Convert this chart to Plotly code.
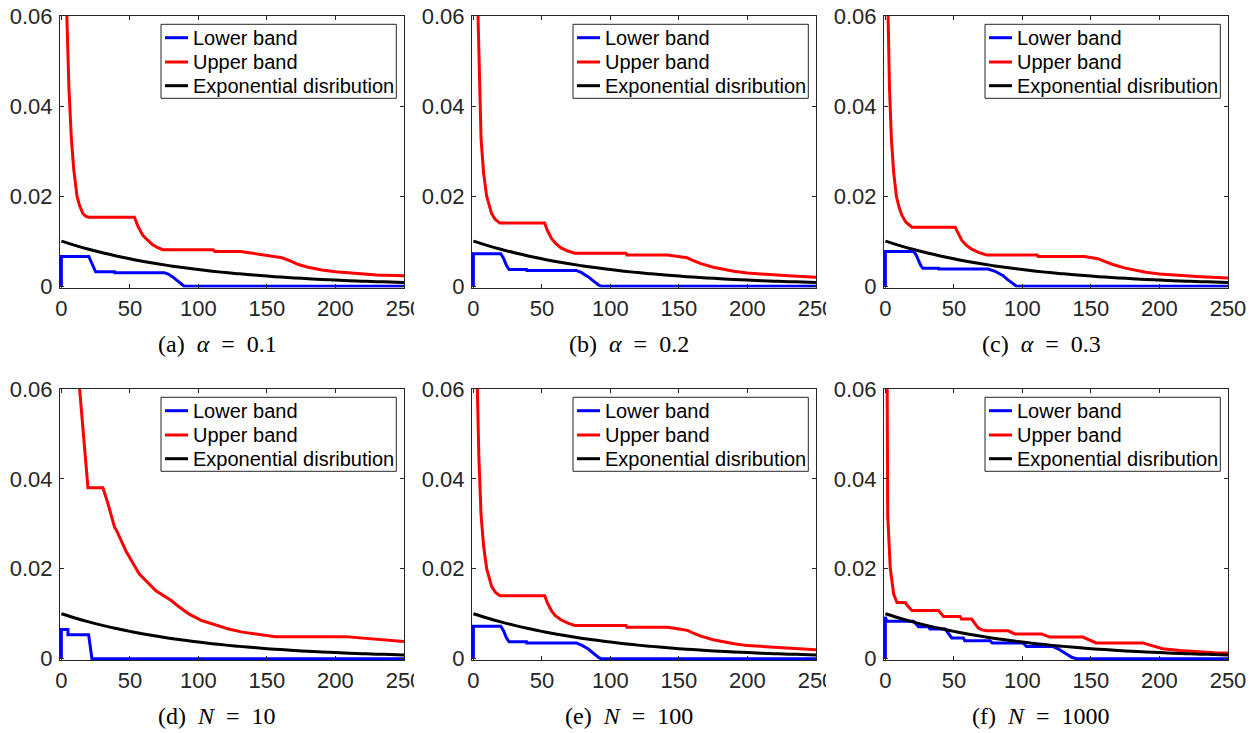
import plotly.graph_objects as go

# ---------------- data ----------------
exp_x = [0, 10, 20, 30, 40, 50, 60, 70, 80, 90, 100, 110, 120, 130, 140, 150,
         160, 170, 180, 190, 200, 210, 220, 230, 240, 250]
exp_y = [0.0100, 0.00905, 0.00819, 0.00741, 0.0067, 0.00607, 0.00549, 0.00497,
         0.00449, 0.00407, 0.00368, 0.00333, 0.00301, 0.00273, 0.00247, 0.00223,
         0.00202, 0.00183, 0.00165, 0.0015, 0.00135, 0.00122, 0.00111, 0.0010,
         0.00091, 0.00082]

# (a) alpha = 0.1
upper_a_x = [1, 2, 3, 4, 5.5, 7.3, 9, 11.4, 13.3, 15.7, 18, 20, 53.3, 56, 59.4, 63,
             66.6, 70, 74, 110.7, 112, 130.8, 146.6, 161, 167, 173, 180, 190, 200,
             214, 230, 250]
upper_a_y = [0.24, 0.12, 0.08, 0.06, 0.044, 0.0327, 0.026, 0.020, 0.0179, 0.0161,
             0.0155, 0.0153, 0.0153, 0.0132, 0.0113, 0.0102, 0.0092, 0.0086, 0.0081,
             0.0081, 0.0077, 0.0077, 0.0069, 0.0063, 0.0056, 0.0048, 0.0042, 0.0036,
             0.0032, 0.0028, 0.0025, 0.0023]
lower_a_x = [0, 0, 20, 25, 38.8, 39, 75, 78, 81, 84, 86, 88, 89.6, 250]
lower_a_y = [0, 0.0066, 0.0066, 0.0032, 0.0032, 0.0030, 0.0030, 0.0027, 0.0021,
             0.0014, 0.0008, 0.0003, 0, 0]

# (b) alpha = 0.2
upper_b_x = [1, 2, 3.4, 4.5, 5.6, 7.5, 9.7, 13.3, 16, 19.4, 52, 54, 57, 60, 64, 69,
             74, 111.4, 112, 141.7, 150, 156, 161, 166, 175, 190, 200, 214, 230, 250]
upper_b_y = [0.2, 0.1, 0.06, 0.045, 0.0327, 0.025, 0.020, 0.0161, 0.0148, 0.0140,
             0.0140, 0.0124, 0.0106, 0.0095, 0.0085, 0.0078, 0.0073, 0.0073, 0.0069,
             0.0069, 0.0066, 0.0063, 0.0056, 0.0050, 0.0042, 0.0033, 0.0029, 0.0026,
             0.0023, 0.0020]
lower_b_x = [0, 0, 20, 22, 24, 26, 38.8, 39, 75, 79, 83.6, 87, 89.6, 91.5, 93.3, 250]
lower_b_y = [0, 0.0072, 0.0072, 0.0062, 0.0047, 0.0037, 0.0037, 0.0035, 0.0035,
             0.0030, 0.0021, 0.0012, 0.0006, 0.0002, 0, 0]

# (c) alpha = 0.3
upper_c_x = [1, 2, 3, 4.4, 6, 8, 10, 12.1, 15, 19.4, 50.9, 53, 55.7, 59, 63, 68, 74,
             110.7, 111.5, 145.3, 150, 155, 160, 166, 175, 190, 200, 214, 230, 250]
upper_c_y = [0.12, 0.06, 0.044, 0.0327, 0.0255, 0.020, 0.0175, 0.0157, 0.0142,
             0.0131, 0.0131, 0.0117, 0.0102, 0.0091, 0.0082, 0.0075, 0.0069, 0.0069,
             0.0066, 0.0066, 0.0064, 0.0061, 0.0055, 0.0048, 0.0040, 0.0031, 0.0027,
             0.0024, 0.0021, 0.0018]
lower_c_x = [0, 0, 20.6, 22.5, 24.2, 26, 27.4, 38.8, 39, 75, 80, 86, 89, 92, 94,
             95.7, 250]
lower_c_y = [0, 0.0077, 0.0077, 0.0069, 0.0057, 0.0045, 0.0040, 0.0040, 0.0038,
             0.0038, 0.0033, 0.0023, 0.0015, 0.0008, 0.0003, 0, 0]

# (d) N = 10
upper_d_x = [5, 10, 13.3, 15.8, 18.2, 19.4, 30.3, 33.9, 38.8, 40, 47.2, 56.9, 69,
             79.9, 86, 93.3, 102, 112.6, 122, 132, 145, 156.2, 207, 230, 250]
upper_d_y = [0.16, 0.08, 0.06, 0.0516, 0.0428, 0.0380, 0.0380, 0.0346, 0.0292,
             0.0287, 0.0239, 0.0188, 0.0151, 0.0130, 0.0115, 0.0099, 0.0085, 0.0074,
             0.0066, 0.0059, 0.0053, 0.0049, 0.0049, 0.0044, 0.0038]
lower_d_x = [0, 0, 4.8, 4.8, 19.9, 22.3, 250]
lower_d_y = [0, 0.0065, 0.0065, 0.0053, 0.0053, 0, 0]

# (e) N = 100
upper_e_x = [1, 2, 2.9, 4, 5.6, 7.5, 9.7, 13.3, 16, 19.4, 52.1, 54, 56.9, 60, 64.2,
             69, 73.9, 111.4, 112, 141.7, 150, 156.2, 161, 166, 175, 190.2, 200,
             214.4, 230, 250]
upper_e_y = [0.17, 0.087, 0.06, 0.045, 0.032, 0.025, 0.020, 0.0161, 0.0148, 0.0140,
             0.0140, 0.0124, 0.0107, 0.0095, 0.0086, 0.0079, 0.0074, 0.0074, 0.0070,
             0.0070, 0.0066, 0.0063, 0.0056, 0.0050, 0.0042, 0.0033, 0.0029, 0.0026,
             0.0023, 0.0020]
lower_e_x = [0, 0, 20, 22, 24, 26, 38.8, 39, 75, 79, 83.6, 87, 89.6, 91.5, 93.3, 250]
lower_e_y = [0, 0.0072, 0.0072, 0.0062, 0.0047, 0.00375, 0.00375, 0.0035, 0.0035,
             0.0030, 0.0022, 0.0013, 0.0007, 0.0002, 0, 0]

# (f) N = 1000
upper_f_x = [0.5, 1.0, 1.7, 3.6, 6.1, 8.5, 14.5, 16, 19.4, 38.8, 40.5, 42.4, 54.5,
             55.5, 63, 65.5, 67.8, 70.5, 73.9, 89.6, 92, 94.5, 113.9, 117, 120,
             144.1, 149, 153.8, 187.7, 195, 202.3, 215, 226.5, 240, 250]
upper_f_y = [0.12, 0.06, 0.032, 0.020, 0.0143, 0.0125, 0.0125, 0.0118, 0.0107,
             0.0107, 0.0100, 0.0094, 0.0094, 0.0088, 0.0088, 0.0078, 0.0068, 0.0064,
             0.0062, 0.0062, 0.0058, 0.0055, 0.0055, 0.0051, 0.0048, 0.0048, 0.0041,
             0.0035, 0.0035, 0.0028, 0.0022, 0.0018, 0.0015, 0.0013, 0.00125]
lower_f_x = [0, 0, 1, 20.6, 24.2, 31.5, 32.5, 43.6, 48.4, 56.9, 58, 76.3, 78, 100.5,
             103, 122.3, 126, 129.6, 133, 136, 139.3, 250]
lower_f_y = [0, 0.0093, 0.0083, 0.0083, 0.0071, 0.0071, 0.0066, 0.0066, 0.0046,
             0.0046, 0.0040, 0.0040, 0.0035, 0.0035, 0.0027, 0.0027, 0.0022, 0.0015,
             0.0008, 0.0003, 0, 0]

captions = ["(a)\u2002<i>α</i>\u2002=\u20020.1", "(b)\u2002<i>α</i>\u2002=\u20020.2",
            "(c)\u2002<i>α</i>\u2002=\u20020.3", "(d)\u2002<i>N</i>\u2002=\u200210",
            "(e)\u2002<i>N</i>\u2002=\u2002100", "(f)\u2002<i>N</i>\u2002=\u20021000"]
series_names = ["Lower band", "Upper band", "Exponential disribution"]
series_colors = ["#0000ff", "#ff0000", "#000000"]
x_ticks = [0, 50, 100, 150, 200, 250]
y_ticks = [0, 0.02, 0.04, 0.06]
y_tick_text = ["0", "0.02", "0.04", "0.06"]

panels = [
    (lower_a_x, lower_a_y, upper_a_x, upper_a_y),
    (lower_b_x, lower_b_y, upper_b_x, upper_b_y),
    (lower_c_x, lower_c_y, upper_c_x, upper_c_y),
    (lower_d_x, lower_d_y, upper_d_x, upper_d_y),
    (lower_e_x, lower_e_y, upper_e_x, upper_e_y),
    (lower_f_x, lower_f_y, upper_f_x, upper_f_y),
]

# ---------------- layout geometry (screen pixels) ----------------
# the page body margin is removed by a post script, so the figure fills
# the whole window
W, H = 1256, 733
col_px = [(60, 404), (472, 816), (884, 1228)]
row_px = [(16, 287.5), (389, 660)]

AX = "#262626"
SANS = "Liberation Sans, Arial, sans-serif"
tick_font = dict(family=SANS, size=22, color=AX)


def px(x):
    return x / W


def py(y):
    return 1 - y / H


fig = go.Figure()
layout = dict(template="none", width=W, height=H,
              margin=dict(l=0, r=0, t=0, b=0, pad=0),
              plot_bgcolor="white", paper_bgcolor="white", showlegend=False)
annotations = []
shapes = []

for i, (lx, ly, ux, uy) in enumerate(panels):
    r, c = divmod(i, 3)
    x0, x1 = col_px[c]
    y0, y1 = row_px[r]
    sfx = "" if i == 0 else str(i + 1)
    xa, ya = "x" + sfx, "y" + sfx
    common = dict(xaxis=xa, yaxis=ya, mode="lines", showlegend=False)
    fig.add_trace(go.Scatter(x=lx, y=ly, name=series_names[0],
                             line=dict(color=series_colors[0], width=3), **common))
    fig.add_trace(go.Scatter(x=ux, y=uy, name=series_names[1],
                             line=dict(color=series_colors[1], width=3), **common))
    fig.add_trace(go.Scatter(x=exp_x, y=exp_y, name=series_names[2],
                             line=dict(color=series_colors[2], width=3,
                                       shape="spline"), **common))
    layout["xaxis" + sfx] = dict(
        domain=[px(x0), px(x1)], anchor=ya, range=[-1, 250], tickvals=x_ticks,
        ticks="inside", ticklen=4, tickcolor=AX, showline=True, linecolor=AX,
        linewidth=1, mirror="ticks", showgrid=False, zeroline=False,
        tickfont=tick_font, ticklabelstandoff=1, automargin=False,
        ticklabeloverflow="allow", fixedrange=True)
    layout["yaxis" + sfx] = dict(
        domain=[py(y1), py(y0)], anchor=xa, range=[-0.0003, 0.06],
        tickvals=y_ticks, ticktext=y_tick_text,
        ticks="inside", ticklen=4, tickcolor=AX, showline=True, linecolor=AX,
        linewidth=1, mirror="ticks", showgrid=False, zeroline=False,
        tickfont=tick_font, ticklabelstandoff=2, automargin=False,
        ticklabeloverflow="allow", fixedrange=True)

    # legend box (MATLAB style, inside the top-right corner)
    bl, br = x1 - 243, x1 - 7.7
    bt, bb = y0 + 8.3, y0 + 82.3
    shapes.append(dict(type="rect", xref="paper", yref="paper", layer="above",
                       x0=px(bl), x1=px(br), y0=py(bb), y1=py(bt),
                       fillcolor="white", line=dict(color=AX, width=1)))
    for k, dy in enumerate([21.7, 46, 69.7]):
        yy = y0 + dy
        shapes.append(dict(type="line", xref="paper", yref="paper", layer="above",
                           x0=px(bl + 4), x1=px(bl + 27), y0=py(yy), y1=py(yy),
                           line=dict(color=series_colors[k], width=3)))
        annotations.append(dict(
            x=px(bl + 29.5), y=py(yy), xref="paper", yref="paper",
            text=series_names[k], showarrow=False, xanchor="left",
            yanchor="middle", font=dict(family=SANS, size=20, color="black")))

    cy = 343.5 if r == 0 else 716
    annotations.append(dict(
        x=px((x0 + x1) / 2 - 15), y=py(cy), xref="paper", yref="paper",
        text=captions[i], showarrow=False, xanchor="center", yanchor="middle",
        font=dict(family="Liberation Serif, Times New Roman, serif", size=24,
                  color="black")))
    # the right-hand neighbour covers the tail of the last x tick label
    if c < 2:
        cut = x1 + 10
        shapes.append(dict(
            type="rect", xref="paper", yref="paper", layer="above",
            x0=px(cut), x1=px(cut + 8), y0=py(y1 + 35), y1=py(y1 + 3),
            fillcolor="white", line=dict(width=0)))

layout["annotations"] = annotations
layout["shapes"] = shapes
fig.update_layout(**layout)
fig.write_html("out.html",
               config={"displayModeBar": False, "staticPlot": True},
               post_script="document.body.style.margin='0';"
                           "document.body.style.overflow='hidden';")
